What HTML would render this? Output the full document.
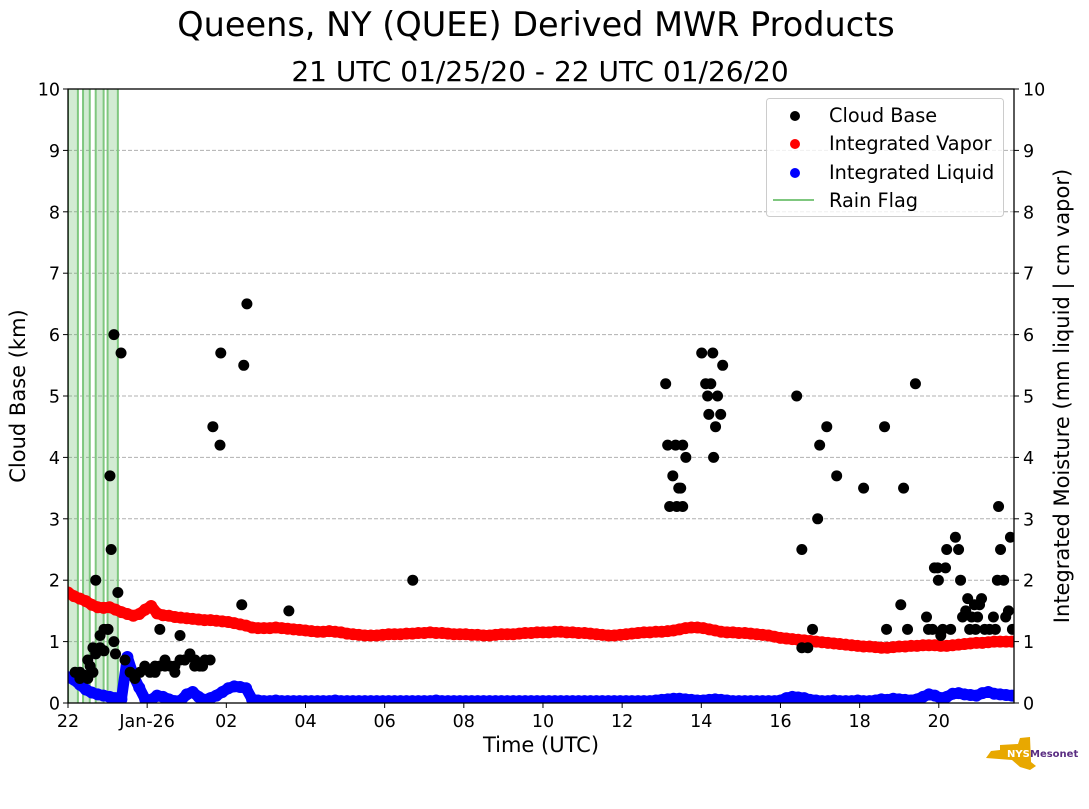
<!DOCTYPE html>
<html><head><meta charset="utf-8"><style>
body{margin:0;background:#fff;}
svg text{font-family:"DejaVu Sans","Liberation Sans",sans-serif;fill:#000;}
</style></head><body>
<svg id="chart" width="1089" height="804" viewBox="0 0 1089 804">
<defs><clipPath id="pc"><rect x="68" y="89" width="946" height="614"/></clipPath></defs>
<text x="536" y="36" font-size="33.5" text-anchor="middle">Queens, NY (QUEE) Derived MWR Products</text>
<text x="540" y="81" font-size="28" text-anchor="middle">21 UTC 01/25/20 - 22 UTC 01/26/20</text>
<g id="grid"></g>
<g id="rain" clip-path="url(#pc)"></g>
<g id="vapor" clip-path="url(#pc)"></g>
<g id="liquid" clip-path="url(#pc)"></g>
<g id="cloud" clip-path="url(#pc)"></g>
<rect x="68" y="89" width="946" height="614" fill="none" stroke="#000" stroke-width="1.3"/>
<g id="yl"></g>
<g id="yr"></g>
<g id="xa"></g>
<text transform="translate(25,396) rotate(-90)" font-size="21" text-anchor="middle">Cloud Base (km)</text>
<text transform="translate(1069,396) rotate(-90)" font-size="21" text-anchor="middle">Integrated Moisture (mm liquid | cm vapor)</text>
<text x="541" y="752" font-size="21" text-anchor="middle">Time (UTC)</text>
<g>
<rect x="766.5" y="98.5" width="237" height="118" rx="3" fill="#fff" fill-opacity="0.8" stroke="#ccc"/>
<circle cx="795" cy="116" r="5" fill="#000"/>
<text x="829" y="122" font-size="19.3">Cloud Base</text>
<circle cx="795" cy="144" r="5" fill="#f00"/>
<text x="829" y="150" font-size="19.3">Integrated Vapor</text>
<circle cx="795" cy="173" r="5" fill="#00f"/>
<text x="829" y="179" font-size="19.3">Integrated Liquid</text>
<line x1="773" y1="200" x2="814" y2="200" stroke="#7fc77f" stroke-width="2"/>
<text x="829" y="207" font-size="19.3">Rain Flag</text>
</g>
<g>
<path d="M1000 745 L1018 744 L1020 738 L1030 737 L1031 762 L1036 766 L1030 770 L1020 767 L1012 760 L986 758 L991 751 L1000 750 Z" fill="#e8a800"/>
<text x="1007" y="757" font-size="10" font-weight="bold" style="fill:#fff">NYS</text>
<text x="1030" y="757" font-size="10" font-weight="bold" style="fill:#5a2d82">Mesonet</text>
</g>
</svg>
<script>
const vaporValues=[1.8,1.74,1.7,1.66,1.6,1.56,1.55,1.56,1.52,1.48,1.45,1.42,1.45,1.52,1.58,1.46,1.43,1.42,1.4,1.39,1.38,1.37,1.36,1.35,1.35,1.34,1.33,1.32,1.3,1.28,1.26,1.23,1.22,1.22,1.22,1.23,1.22,1.21,1.2,1.19,1.18,1.17,1.16,1.16,1.17,1.16,1.15,1.13,1.12,1.11,1.1,1.1,1.1,1.11,1.12,1.12,1.12,1.13,1.13,1.14,1.14,1.15,1.14,1.14,1.13,1.12,1.12,1.12,1.11,1.11,1.1,1.1,1.11,1.12,1.12,1.12,1.13,1.14,1.14,1.15,1.15,1.15,1.16,1.16,1.15,1.15,1.14,1.14,1.13,1.12,1.11,1.1,1.1,1.11,1.12,1.13,1.14,1.15,1.15,1.16,1.16,1.17,1.18,1.2,1.22,1.23,1.23,1.22,1.2,1.18,1.16,1.15,1.15,1.14,1.14,1.13,1.12,1.11,1.1,1.08,1.06,1.05,1.04,1.03,1.02,1.01,1.0,0.99,0.98,0.97,0.96,0.95,0.94,0.93,0.92,0.92,0.91,0.9,0.9,0.91,0.92,0.92,0.93,0.93,0.94,0.94,0.94,0.93,0.93,0.94,0.95,0.96,0.97,0.98,0.98,0.99,1.0,1.0,1.0,1.0,0.99,0.98,0.97,0.96,0.96,0.95];
const vaporStep=0.15;
const liquidValues=[0.42,0.38,0.3,0.22,0.17,0.14,0.12,0.1,0.08,0.06,0.75,0.45,0.25,0.06,0.05,0.12,0.1,0.06,0.03,0.04,0.14,0.18,0.1,0.05,0.08,0.12,0.18,0.24,0.27,0.26,0.24,0.06,0.04,0.03,0.03,0.04,0.03,0.03,0.03,0.03,0.03,0.03,0.03,0.03,0.03,0.04,0.03,0.03,0.03,0.03,0.03,0.03,0.03,0.03,0.03,0.03,0.03,0.03,0.03,0.03,0.03,0.03,0.04,0.03,0.03,0.03,0.03,0.03,0.03,0.03,0.03,0.03,0.03,0.03,0.03,0.03,0.03,0.03,0.03,0.03,0.03,0.03,0.03,0.03,0.03,0.03,0.03,0.03,0.03,0.03,0.03,0.03,0.03,0.03,0.03,0.03,0.03,0.03,0.03,0.04,0.05,0.06,0.07,0.07,0.06,0.05,0.04,0.04,0.05,0.06,0.05,0.04,0.03,0.03,0.03,0.03,0.03,0.03,0.03,0.03,0.04,0.08,0.1,0.09,0.08,0.05,0.04,0.03,0.03,0.04,0.03,0.03,0.03,0.04,0.03,0.03,0.04,0.06,0.05,0.07,0.06,0.05,0.04,0.06,0.1,0.14,0.12,0.08,0.1,0.15,0.16,0.14,0.13,0.12,0.16,0.18,0.15,0.14,0.13,0.12,0.12,0.14];
const liquidStep=0.15;
const cloudHours=[0.18,0.3,0.43,0.5,0.56,0.63,0.7,0.81,0.91,1.01,1.06,1.09,1.16,1.26,1.34,0.3,0.5,0.63,0.7,0.81,0.91,1.01,1.16,1.2,1.44,1.57,1.69,1.82,1.94,2.07,2.2,2.32,2.45,2.58,2.7,2.83,2.95,3.08,3.21,3.33,3.46,3.59,2.2,2.45,2.7,2.95,3.2,3.4,2.32,2.83,3.66,3.84,3.86,4.44,4.52,4.39,5.58,8.71,15.1,15.15,15.2,15.28,15.35,15.38,15.43,15.48,15.53,15.53,15.61,16.01,16.11,16.16,16.19,16.24,16.29,16.31,16.36,16.41,16.49,16.54,18.41,18.54,18.54,18.69,18.81,18.94,18.99,19.17,19.42,20.1,20.63,20.68,21.04,21.11,21.21,21.41,21.69,21.74,21.84,21.89,21.97,21.99,22.05,22.1,22.17,22.2,22.3,22.42,22.5,22.55,22.6,22.68,22.73,22.78,22.83,22.9,22.93,22.98,23.03,23.08,23.16,23.28,23.38,23.43,23.48,23.51,23.56,23.64,23.69,23.76,23.81,23.86];
const cloudKm=[0.5,0.5,0.45,0.4,0.6,0.9,2.0,1.1,1.2,1.2,3.7,2.5,6.0,1.8,5.7,0.4,0.7,0.5,0.8,0.9,0.85,1.2,1.0,0.8,0.7,0.5,0.4,0.5,0.6,0.5,0.5,0.6,0.7,0.6,0.5,0.7,0.7,0.8,0.7,0.6,0.7,0.7,0.6,0.6,0.6,0.7,0.6,0.6,1.2,1.1,4.5,4.2,5.7,5.5,6.5,1.6,1.5,2.0,5.2,4.2,3.2,3.7,4.2,3.2,3.5,3.5,3.2,4.2,4.0,5.7,5.2,5.0,4.7,5.2,5.7,4.0,4.5,5.0,4.7,5.5,5.0,2.5,0.9,0.9,1.2,3.0,4.2,4.5,3.7,3.5,4.5,1.2,1.6,3.5,1.2,5.2,1.4,1.2,1.2,2.2,2.2,2.0,1.1,1.2,2.2,2.5,1.2,2.7,2.5,2.0,1.4,1.5,1.7,1.2,1.4,1.6,1.2,1.4,1.6,1.7,1.2,1.2,1.4,1.2,2.0,3.2,2.5,2.0,1.4,1.5,2.7,1.2];
const rainStart=[0,0.38,0.7,1.0];
const rainEnd=[0.25,0.55,0.9,1.26];
const xTickHours=[0,2,4,6,8,10,12,14,16,18,20,22];
const xTickLabels=["22","Jan-26","02","04","06","08","10","12","14","16","18","20"];
const yTicks=[0,1,2,3,4,5,6,7,8,9,10];

const NS="http://www.w3.org/2000/svg";
const X0=68,X1=1014,Y0=703,Y1=89,HMAX=23.9;
const xs=h=>X0+h*(X1-X0)/HMAX;
const ys=v=>Y0-v*(Y0-Y1)/10;
function mk(tag,attrs,parent){const e=document.createElementNS(NS,tag);for(const k in attrs)e.setAttribute(k,attrs[k]);parent.appendChild(e);return e;}
const g=id=>document.getElementById(id);

yTicks.forEach(v=>{
  if(v>0&&v<10){const l=mk('line',{x1:X0,x2:X1,y1:ys(v),y2:ys(v),stroke:'#b0b0b0','stroke-dasharray':'4,2'},g('grid'));
  
  }
  const a=mk('line',{x1:X0-5,x2:X0,y1:ys(v),y2:ys(v),stroke:'#000'},g('yl'));
  
  
  const t=mk('text',{x:X0-8,y:ys(v)+6.5,'font-size':17.5,'text-anchor':'end'},g('yl'));t.textContent=v;
  
  
  const b=mk('line',{x1:X1,x2:X1+5,y1:ys(v),y2:ys(v),stroke:'#000'},g('yr'));
  
  
  const u=mk('text',{x:X1+9,y:ys(v)+6.5,'font-size':17.5},g('yr'));u.textContent=v;
  
  
});
xTickHours.forEach((h,i)=>{
  const a=mk('line',{x1:xs(h),x2:xs(h),y1:Y0,y2:Y0+5,stroke:'#000'},g('xa'));
  
  
  const t=mk('text',{x:xs(h),y:Y0+24,'font-size':17.5,'text-anchor':'middle'},g('xa'));t.textContent=xTickLabels[i];
  
  
});
rainStart.forEach((s,i)=>{
  const r=mk('rect',{x:xs(s),y:Y1,width:xs(rainEnd[i])-xs(s),height:Y0-Y1,fill:'#4caf50','fill-opacity':0.25},g('rain'));
  
  
  [s,rainEnd[i]].forEach(h=>{const l=mk('line',{x1:xs(h),x2:xs(h),y1:Y1,y2:Y0,stroke:'#7fc77f','stroke-width':2},g('rain'));
  
  });
});
function series(vals,step,color,id){
  let d='';vals.forEach((v,i)=>{d+=(i?'L':'M')+xs(i*step).toFixed(1)+' '+ys(v).toFixed(1);});
  const p=mk('path',{d:d,fill:'none',stroke:color,'stroke-width':11,'stroke-linecap':'round','stroke-linejoin':'round'},g(id));
  
  
  vals.forEach((v,i)=>{const c=mk('circle',{cx:xs(i*step),cy:ys(v),r:6,fill:color},g(id));
  
  });
}
series(vaporValues,vaporStep,'#f00','vapor');
series(liquidValues,liquidStep,'#00f','liquid');
cloudHours.forEach((h,i)=>{
  const c=mk('circle',{cx:xs(h),cy:ys(cloudKm[i]),r:5.5,fill:'#000'},g('cloud'));
  
  
});
</script>
</body></html>
